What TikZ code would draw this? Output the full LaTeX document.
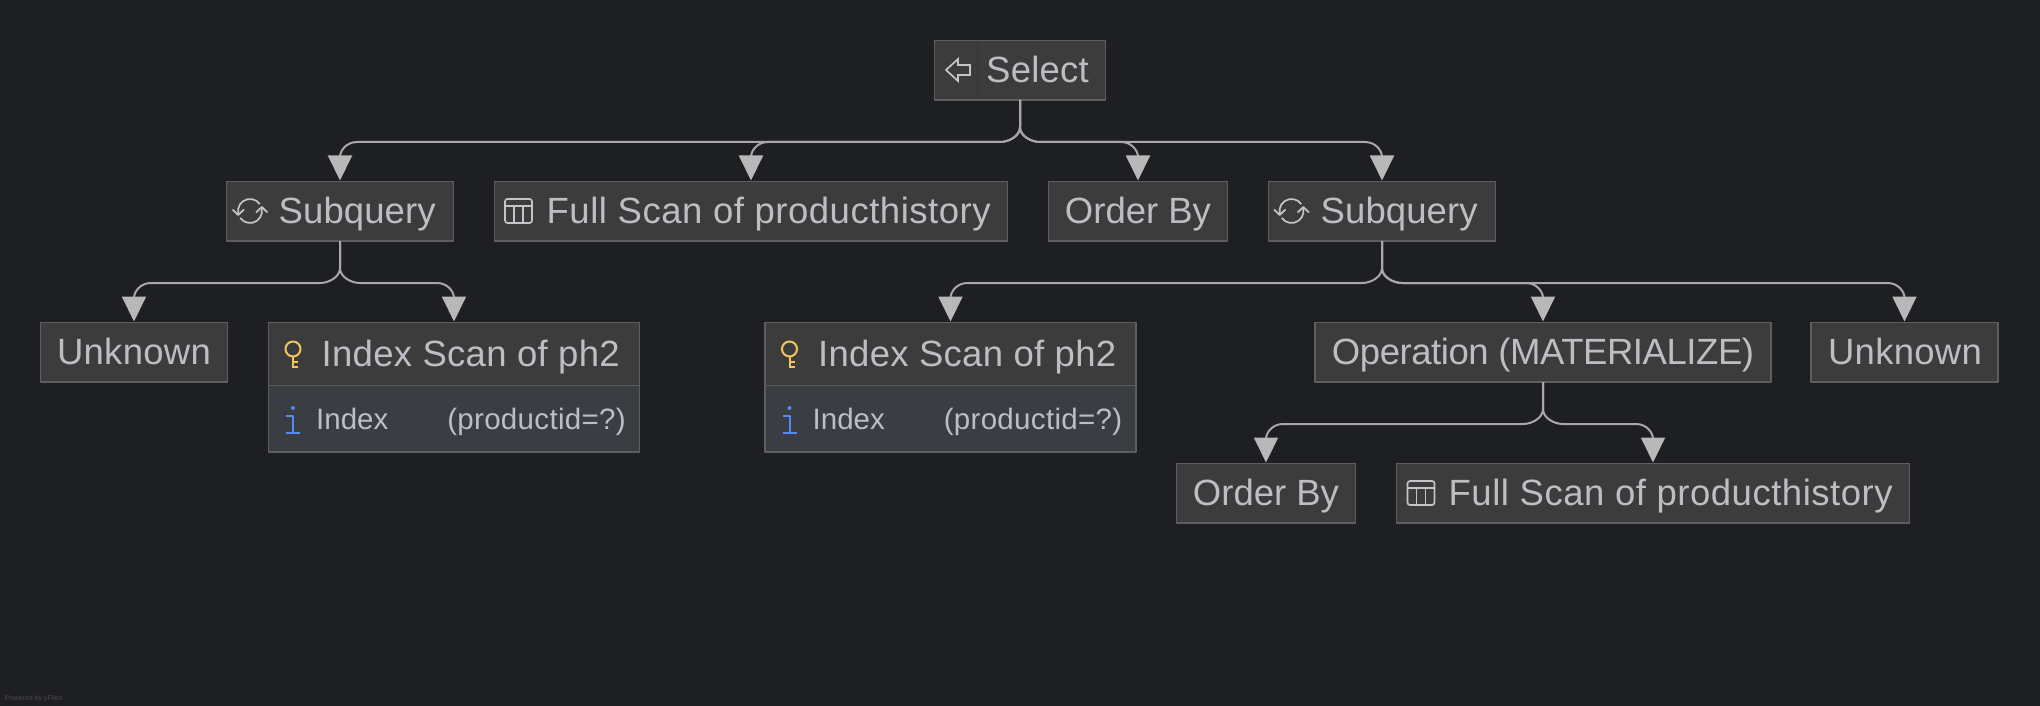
\documentclass[tikz,border=0pt]{standalone}
\usepackage{fontspec}
\setmainfont{Liberation Sans}
\usetikzlibrary{arrows.meta,calc}
\definecolor{bgdark}{HTML}{1E1F22}
\definecolor{boxfill}{HTML}{3C3C3C}
\definecolor{boxline}{HTML}{5E5E5E}
\definecolor{textgrey}{HTML}{BCBEC4}
\definecolor{edgegrey}{HTML}{A8A8A8}
\definecolor{tipgrey}{HTML}{B8B8B8}
\definecolor{detailfill}{HTML}{3A3D41}
\definecolor{keyyellow}{HTML}{F2C55C}
\definecolor{infoblue}{HTML}{548AF7}
\tikzset{
  opbox/.style={draw=boxline,line width=1.5pt,fill=boxfill,anchor=north west,inner sep=0pt,outer sep=0pt,minimum height=59.5pt},
  detailbox/.style={draw=boxline,line width=1.5pt,fill=detailfill,anchor=north west,inner sep=0pt,outer sep=0pt,minimum height=66.5pt},
  optext/.style={anchor=base west,inner sep=0pt,text=textgrey,font=\fontsize{36.5}{36.5}\selectfont},
  midtext/.style={anchor=base,inner sep=0pt,text=textgrey,font=\fontsize{36.5}{36.5}\selectfont},
  subtext/.style={anchor=base west,inner sep=0pt,text=textgrey,font=\fontsize{29.5}{29.5}\selectfont},
  edge/.style={draw=edgegrey,line width=2pt,shorten >=1pt,-{Triangle[length=25pt,width=24pt,color=tipgrey]}},
  iconline/.style={draw=textgrey!90!white,line width=1.7pt}
}
\newcommand{\spaced}[2]{{\addfontfeature{LetterSpace=#1}#2}}
\newcommand{\branch}[3]{\draw[edge] let \p1=(#1.south), \p2=(#2.north) in (\p1) -- ++(0,27) .. controls +(0,9) and +(#3*-9,0) .. ++(#3*20,15) -- (\x2-#3*17,\y1-42) .. controls +(#3*11,0) and +(0,-6) .. (\x2,\y1-57) -- (\p2);}
\newcommand{\tableicon}[2]{\draw[iconline,rounded corners=2.5pt] (#1,#2) rectangle ++(27,24);
  \draw[iconline] (#1,#2+7) -- ++(27,0) (#1+9,#2+7) -- ++(0,17) (#1+18,#2+7) -- ++(0,17);}
\newcommand{\subqicon}[2]{\draw[iconline] (#1+9.8,#2-6.9) arc (-35:-170:12) -- (#1-11.8,#2+4);
  \draw[iconline] (#1-17.5,#2-1.5) -- (#1-11.8,#2+4) -- (#1-6,#2-1.5);
  \draw[iconline] (#1-9.8,#2+6.9) arc (145:10:12) -- (#1+11.8,#2-4);
  \draw[iconline] (#1+17.5,#2+1.5) -- (#1+11.8,#2-4) -- (#1+6,#2+1.5);}
\newcommand{\keyicon}[2]{\draw[draw=keyyellow,line width=2pt] (#1,#2) circle (7.5);
  \draw[draw=keyyellow,line width=2pt] (#1,#2+7.5) -- ++(0,10.5) (#1,#2+12) -- ++(0,6) (#1-1,#2+18) -- ++(6,0) (#1,#2+13) -- ++(5,0);}
\newcommand{\infoicon}[2]{\fill[infoblue] (#1,#2) circle (2);
  \draw[draw=infoblue,line width=2pt] (#1-7,#2+8) -- ++(7,0) -- ++(0,17) (#1-7,#2+25) -- ++(14,0);}
\begin{document}
\begin{tikzpicture}[line cap=butt,line join=round,x=1pt,y=-1pt]
\fill[bgdark] (0,0) rectangle (2040,706);
\useasboundingbox (0,0) rectangle (2040,706);
\node[opbox,minimum width=171pt] (select) at (934.5,40.5) {};
\node[opbox,minimum width=227pt] (subqueryA) at (226.5,181.5) {};
\node[opbox,minimum width=513pt] (fullscanA) at (494.5,181.5) {};
\node[opbox,minimum width=179pt] (orderbyA) at (1048.5,181.5) {};
\node[opbox,minimum width=227pt] (subqueryB) at (1268.5,181.5) {};
\node[opbox,minimum width=187pt] (unknownA) at (40.5,322.5) {};
\node[opbox,minimum width=371pt,minimum height=63pt] (indexA) at (268.5,322.5) {};
\node[detailbox,minimum width=371pt] (indexAinfo) at (268.5,385.5) {};
\node[opbox,minimum width=371pt,minimum height=63pt] (indexB) at (765,322.5) {};
\node[detailbox,minimum width=371pt] (indexBinfo) at (765,385.5) {};
\node[opbox,minimum width=456pt] (operation) at (1315,322.5) {};
\node[opbox,minimum width=187pt] (unknownB) at (1811,322.5) {};
\node[opbox,minimum width=179pt] (orderbyB) at (1176.5,463.5) {};
\node[opbox,minimum width=513pt] (fullscanB) at (1396.5,463.5) {};
\branch{select}{subqueryA}{-1}
\branch{select}{fullscanA}{-1}
\branch{select}{orderbyA}{1}
\branch{select}{subqueryB}{1}
\branch{subqueryA}{unknownA}{-1}
\branch{subqueryA}{indexA}{1}
\branch{subqueryB}{indexB}{-1}
\branch{subqueryB}{operation}{1}
\branch{subqueryB}{unknownB}{1}
\branch{operation}{orderbyB}{-1}
\branch{operation}{fullscanB}{1}
\node[optext] (selecttxt) at (986,83) {\spaced{0.7}{Select}};
\node[optext] (subqueryAtxt) at (278.5,223) {\spaced{0.3}{Subquery}};
\node[optext] (fullscanAtxt) at (546.5,223) {\spaced{1.4}{Full Scan of producthistory}};
\node[midtext] (orderbyAtxt) at (1138,223) {Order By};
\node[optext] (subqueryBtxt) at (1320.5,223) {\spaced{0.3}{Subquery}};
\node[midtext] (unknownAtxt) at (134,364) {\spaced{0.8}{Unknown}};
\node[optext] (indexAtxt) at (321.5,366) {\spaced{0.8}{Index Scan of ph2}};
\node[subtext] (indexAkey) at (316,429) {Index};
\node[subtext,anchor=base east] (indexAval) at (626,429) {\spaced{1.1}{(productid=?)}};
\node[optext] (indexBtxt) at (818,366) {\spaced{0.8}{Index Scan of ph2}};
\node[subtext] (indexBkey) at (812.5,429) {Index};
\node[subtext,anchor=base east] (indexBval) at (1122.5,429) {\spaced{1.1}{(productid=?)}};
\node[midtext] (operationtxt) at (1543,364) {\spaced{-1.2}{Operation (MATERIALIZE)}};
\node[midtext] (unknownBtxt) at (1905,364) {\spaced{0.8}{Unknown}};
\node[midtext] (orderbyBtxt) at (1266,505) {Order By};
\node[optext] (fullscanBtxt) at (1448.5,505) {\spaced{1.4}{Full Scan of producthistory}};
\node[anchor=base west,inner sep=0pt,text=boxline!70!bgdark,font=\fontsize{7}{7}\selectfont] (poweredby) at (5,700) {Powered by yFiles};
\draw[boxfill!90!black,line width=1pt] (977.5,41.5) -- (977.5,99);
\draw[iconline,line join=miter] (958,59) -- (946,70) -- (958,81) -- (958,75) -- (970,75) -- (970,65) -- (958,65) -- cycle;
\subqicon{250}{211}
\subqicon{1291.5}{211}
\tableicon{505}{199}
\tableicon{1407.5}{481}
\keyicon{293}{349}
\keyicon{789.5}{349}
\infoicon{293}{408}
\infoicon{789.5}{408}
\end{tikzpicture}
\end{document}
